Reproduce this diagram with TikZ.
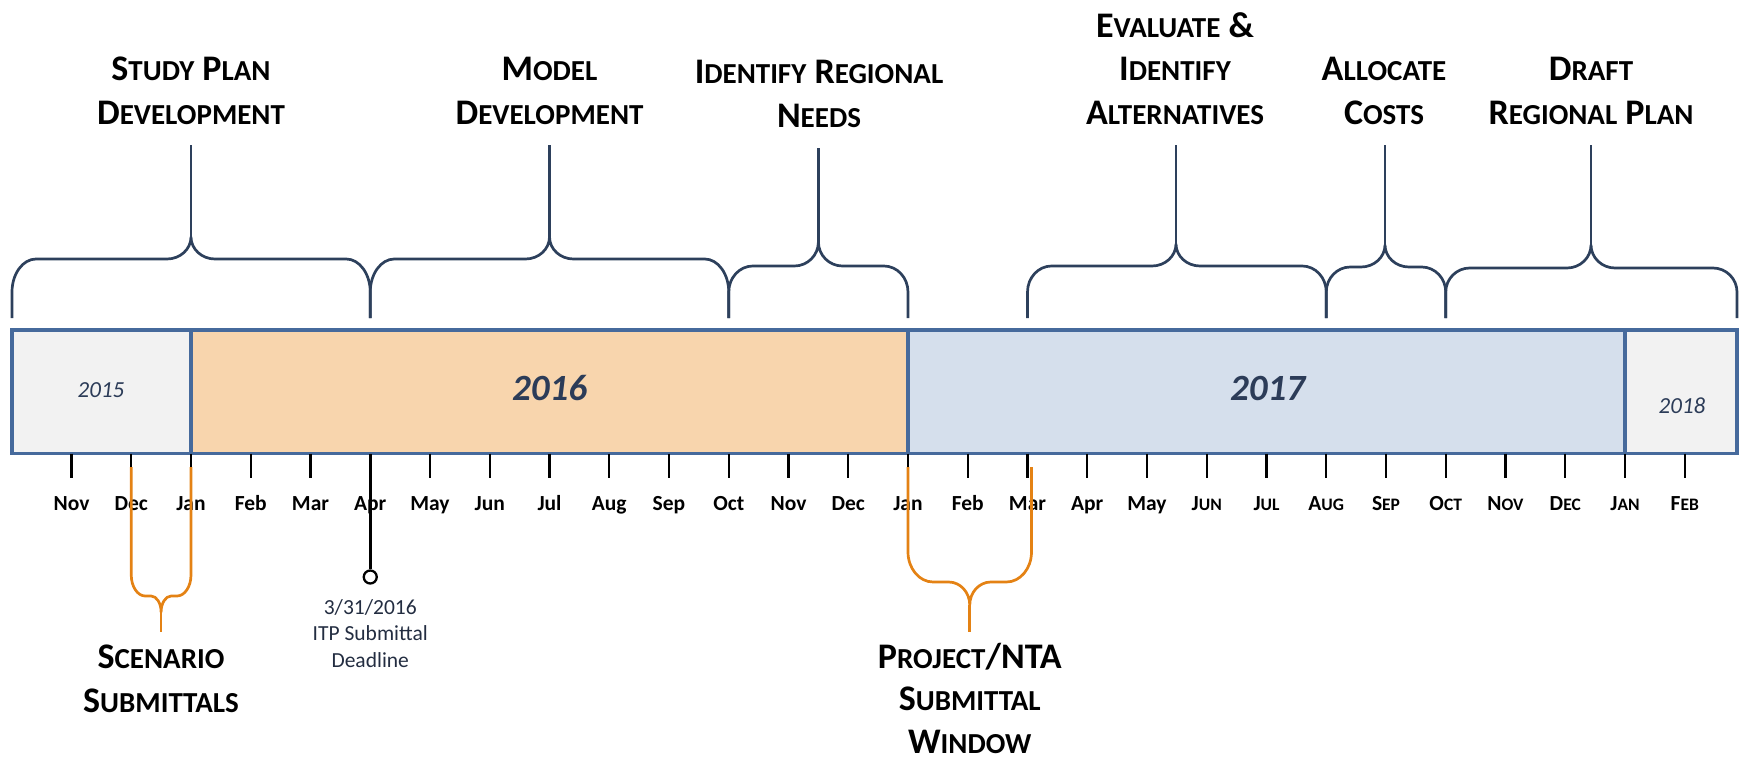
\documentclass[tikz,border=0pt]{standalone}
\usepackage{fontspec}
\setmainfont{Carlito}
\definecolor{barline}{RGB}{70,106,156}
\definecolor{fgray}{RGB}{242,242,242}
\definecolor{fpeach}{RGB}{248,213,173}
\definecolor{fblue}{RGB}{213,223,236}
\definecolor{navy}{RGB}{44,60,88}
\definecolor{bracec}{RGB}{45,64,92}
\definecolor{orng}{RGB}{228,130,20}
\definecolor{dltext}{RGB}{35,45,65}
\newcommand\BigLbl{\fontsize{36}{43.5}\selectfont\bfseries}
\newcommand\lsc{\fontsize{29}{43.5}\selectfont}
\newcommand\MoFont{\fontsize{21.5}{26}\selectfont\bfseries}
\newcommand\msc{\fontsize{17.5}{26}\selectfont}
\newcommand\TopBrace[6]{%
\draw[bracestyle] (#1,318) -- (#1,292) .. controls (#1,{292-0.55*(292-#4)}) and ({#1+0.45*24},#4) .. ({#1+24},#4) -- ({#3-24},#4) .. controls ({#3-0.45*24},#4) and (#3,{#5+0.55*(#4-#5)}) .. (#3,#5) .. controls (#3,{#5+0.55*(#4-#5)}) and ({#3+0.45*24},#4) .. ({#3+24},#4) -- ({#2-24},#4) .. controls ({#2-0.45*24},#4) and (#2,{292-0.55*(292-#4)}) .. (#2,292) -- (#2,318);
\draw[bracestyle] (#3,#5) -- (#3,#6);}
\newcommand\BotBrace[9]{%
\draw[obrace] (#1,467) -- (#1,#4) .. controls (#1,{#4+0.55*(#5-#4)}) and ({#1+0.45*#6},#5) .. ({#1+#6},#5) -- ({#3-#7},#5) .. controls ({#3-0.45*#7},#5) and (#3,{#5+0.45*#8}) .. (#3,{#5+#8}) .. controls (#3,{#5+0.45*#8}) and ({#3+0.45*#7},#5) .. ({#3+#7},#5) -- ({#2-#6},#5) .. controls ({#2-0.45*#6},#5) and (#2,{#4+0.55*(#5-#4)}) .. (#2,#4) -- (#2,467);
\draw[obrace] (#3,{#5+#8}) -- (#3,#9);}
\begin{document}
\begin{tikzpicture}[x=1pt,y=-1pt,
  bracestyle/.style={draw=bracec,line width=2.7pt,line join=round},
  obrace/.style={draw=orng,line width=2.7pt,line join=round},
  tickmark/.style={draw=black,line width=2.4pt},
  toplbl/.style={font=\BigLbl,align=center,inner sep=0pt,anchor=north},
  molbl/.style={font=\MoFont,inner sep=0pt,anchor=base},
  yrlbl/.style={text=navy,inner sep=0pt,anchor=base},
  barbox/.style={draw=barline,line width=3.6pt}]
\useasboundingbox (0,0) rectangle (1743,760);
% year boxes
\fill[fgray] (12,330) rectangle (191,453.5);
\fill[fpeach] (191,330) rectangle (908,453.5);
\fill[fblue] (908,330) rectangle (1625,453.5);
\fill[fgray] (1625,330) rectangle (1737,453.5);
\draw[barbox] (12,330) rectangle (1737,453.5);
\draw[barbox] (191,330) -- (191,453.5);
\draw[barbox] (908,330) -- (908,453.5);
\draw[barbox] (1625,330) -- (1625,453.5);
\node[yrlbl,font=\fontsize{23}{27}\selectfont\itshape] (y2015) at (101,397) {2015};
\node[yrlbl,font=\fontsize{37}{44}\selectfont\bfseries\itshape] (y2016) at (549.5,400) {2016};
\node[yrlbl,font=\fontsize{37}{44}\selectfont\bfseries\itshape] (y2017) at (1267.5,400) {2017};
\node[yrlbl,font=\fontsize{23}{27}\selectfont\itshape] (y2018) at (1682,413) {2018};
% months
\foreach \i/\m in {-2/Nov,-1/Dec,0/Jan,1/Feb,2/Mar,3/Apr,4/May,5/Jun,6/Jul,7/Aug,8/Sep,9/Oct,10/Nov,11/Dec,12/Jan,13/Feb,14/Mar,15/Apr,16/May,17/{J{\msc UN}},18/{J{\msc UL}},19/{A{\msc UG}},20/{S{\msc EP}},21/{O{\msc CT}},22/{N{\msc OV}},23/{D{\msc EC}},24/{J{\msc AN}},25/{F{\msc EB}}}{
  \pgfmathtruncatemacro\k{\i+2}
  \coordinate (t\k) at ({191+59.75*\i},453.5);
  \draw[tickmark] (t\k) -- ++(0,24.5);
  \node[molbl] (m\k) at ({191+59.75*\i},510.7) {\m};
}
% deadline
\node[circle,draw=black,line width=2.3pt,minimum size=13pt,inner sep=0pt] (dl) at (370.25,577) {};
\draw[black,line width=2.6pt] (t5) -- (dl);
\node[inner sep=0pt,anchor=north,align=center,text=dltext,font=\fontsize{21.5}{26.5}\selectfont] (dltxt) at (370.25,599) {3/31/2016\\ITP Submittal\\Deadline};
% top braces
\TopBrace{12}{370.25}{191}{259}{237}{145}
\TopBrace{370.25}{728.75}{549.5}{259}{237}{145}
\TopBrace{728.75}{908}{818.4}{266}{242}{148}
\TopBrace{1027.5}{1326.25}{1176}{266}{244}{145}
\TopBrace{1326.25}{1445.75}{1385}{267}{245}{145}
\TopBrace{1445.75}{1737}{1591}{268}{245}{145}
% top labels
\node[toplbl] (lstudy) at (191,57) {S{\lsc TUDY} P{\lsc LAN}\\D{\lsc EVELOPMENT}};
\node[toplbl] (lmodel) at (549.5,57) {M{\lsc ODEL}\\D{\lsc EVELOPMENT}};
\node[toplbl] (lneeds) at (819,60) {I{\lsc DENTIFY} R{\lsc EGIONAL}\\N{\lsc EEDS}};
\node[toplbl] (leval) at (1175,12) {E{\lsc VALUATE} \&\\I{\lsc DENTIFY}\\A{\lsc LTERNATIVES}};
\node[toplbl] (lalloc) at (1384,57) {A{\lsc LLOCATE}\\C{\lsc OSTS}};
\node[toplbl] (ldraft) at (1591,57) {D{\lsc RAFT}\\R{\lsc EGIONAL} P{\lsc LAN}};
% bottom braces
\BotBrace{131.25}{191}{161.1}{575}{596}{14}{10}{16}{632}
\BotBrace{908}{1031.5}{969.75}{552}{582}{25}{21}{23}{632}
\node[toplbl] (lscen) at (161,645) {S{\lsc CENARIO}\\S{\lsc UBMITTALS}};
\node[toplbl,font=\fontsize{36}{42.5}\selectfont\bfseries] (lproj) at (969.75,643) {P{\lsc ROJECT}/NTA\\S{\lsc UBMITTAL}\\W{\lsc INDOW}};
\end{tikzpicture}
\end{document}
